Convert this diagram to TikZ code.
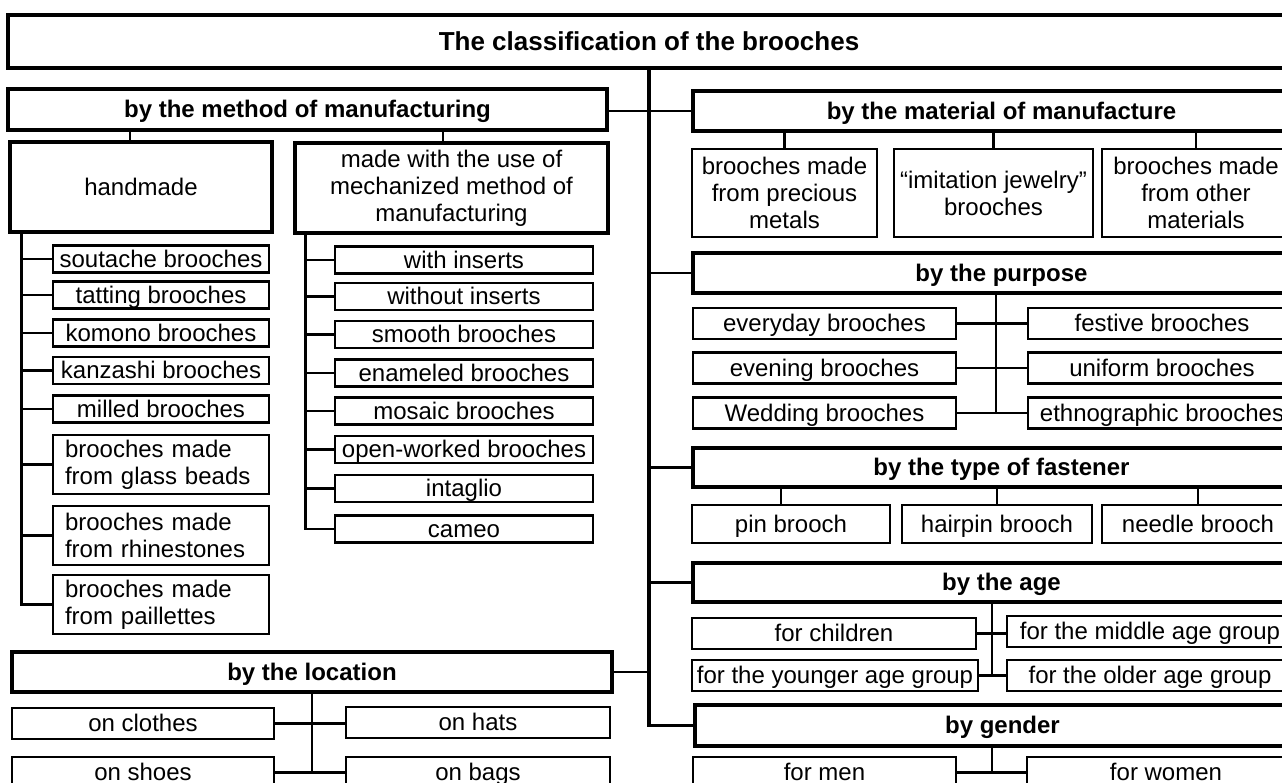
\documentclass[tikz,border=0pt]{standalone}
\usepackage{fontspec}
\setmainfont{Liberation Sans}
\usepackage{tikz}
\tikzstyle{oneline} = [text height=8.6pt,text depth=0.6pt]
\tikzstyle{head} = [draw,line width=1.75pt,inner sep=0pt,oneline,font=\fontsize{12}{13.5}\selectfont\bfseries]
\tikzstyle{rhead} = [head,minimum width=308.5pt,minimum height=20pt]
\tikzstyle{group} = [draw,line width=1.75pt,inner sep=0pt,align=center,font=\fontsize{12}{13.5}\selectfont]
\tikzstyle{item} = [draw,line width=1.1pt,inner sep=0pt,align=center,font=\fontsize{12}{13.5}\selectfont]
\tikzstyle{hitem} = [item,oneline,minimum width=108pt,minimum height=13.5pt]
\tikzstyle{hitemtwo} = [item,align=left,text width=96pt,minimum width=108pt,minimum height=29.5pt]
\tikzstyle{mitem} = [item,oneline,minimum width=129pt,minimum height=13.5pt]
\tikzstyle{litem} = [item,oneline,minimum height=15.5pt]
\tikzstyle{link} = [line width=1.25pt]
\tikzstyle{trunk} = [line width=1.75pt]

\begin{document}
\begin{tikzpicture}[line join=miter,x=0.5pt,y=-0.5pt]
                \useasboundingbox (0,0) rectangle (1282,783);
                \clip (0,0) rectangle (1282,783);

                \node[head,minimum width=641pt,minimum height=26.5pt,text height=9.4pt,text depth=0.4pt,font=\fontsize{13}{15}\selectfont\bfseries] (title) at (649,41.5) {The classification of the brooches};

                \node[head,minimum width=299.5pt,minimum height=20.5pt] (method) at (307.5,109.5) {by the method of manufacturing};
                \node[group,minimum width=131pt,minimum height=45pt] (handmade) at (141,187) {handmade};
                \node[group,minimum width=156.5pt,minimum height=45pt] (mech) at (451.5,188) {made with the use of\\mechanized method of\\manufacturing};

                \node[hitem] (soutache) at (161,259) {soutache brooches};
                \node[hitem] (tatting) at (161,295) {tatting brooches};
                \node[hitem] (komono) at (161,333) {komono brooches};
                \node[hitem] (kanzashi) at (161,370.5) {kanzashi brooches};
                \node[hitem] (milled) at (161,409) {milled brooches};
                \node[hitemtwo] (glass) at (161,464.5) {brooches made\\from glass beads};
                \node[hitemtwo] (rhinestones) at (161,535.5) {brooches made\\from rhinestones};
                \node[hitemtwo] (paillettes) at (161,604.5) {brooches made\\from paillettes};

                \node[mitem] (inserts) at (464,260) {with inserts};
                \node[mitem] (noinserts) at (464,296.5) {without inserts};
                \node[mitem] (smooth) at (464,334.5) {smooth brooches};
                \node[mitem] (enameled) at (464,373) {enameled brooches};
                \node[mitem] (mosaic) at (464,411) {mosaic brooches};
                \node[mitem] (openworked) at (464,449.5) {open-worked brooches};
                \node[mitem] (intaglio) at (464,488.5) {intaglio};
                \node[mitem] (cameo) at (464,529) {cameo};

                \node[head,minimum width=300pt,minimum height=20pt] (location) at (312,672) {by the location};
                \node[litem,minimum width=131pt] (clothes) at (143,723.5) {on clothes};
                \node[litem,minimum width=132pt] (hats) at (478,722.5) {on hats};
                \node[litem,minimum width=131pt] (shoes) at (143,772.5) {on shoes};
                \node[litem,minimum width=132pt] (bags) at (478,772.5) {on bags};

                \node[rhead] (material) at (1001.5,111) {by the material of manufacture};
                \node[item,minimum width=92.5pt,minimum height=44pt] (precious) at (784.5,193) {brooches made\\from precious\\metals};
                \node[item,minimum width=99.5pt,minimum height=44pt] (imitation) at (993.5,193) {“imitation jewelry”\\brooches};
                \node[item,minimum width=94pt,minimum height=44pt] (other) at (1196,193) {brooches made\\from other\\materials};

                \node[rhead] (purpose) at (1001.5,273) {by the purpose};
                \node[litem,minimum width=131.5pt] (everyday) at (824.5,323.5) {everyday brooches};
                \node[litem,minimum width=131.5pt] (evening) at (824.5,368) {evening brooches};
                \node[litem,minimum width=131.5pt] (wedding) at (824.5,413) {Wedding brooches};
                \node[litem,minimum width=134pt] (festive) at (1162,323.5) {festive brooches};
                \node[litem,minimum width=134pt] (uniform) at (1162,368) {uniform brooches};
                \node[litem,minimum width=134pt] (ethno) at (1162,413) {ethnographic brooches};

                \node[rhead,minimum height=19.5pt] (fastener) at (1001.5,467.5) {by the type of fastener};
                \node[item,oneline,minimum width=99pt,minimum height=19pt] (pin) at (791,524) {pin brooch};
                \node[item,oneline,minimum width=95pt,minimum height=19pt] (hairpin) at (997,524) {hairpin brooch};
                \node[item,oneline,minimum width=96pt,minimum height=19pt] (needle) at (1198,524) {needle brooch};

                \node[rhead,minimum height=19.5pt] (age) at (1001.5,582.5) {by the age};
                \node[litem,minimum width=142pt] (children) at (834,633.5) {for children};
                \node[litem,minimum width=143pt] (younger) at (835,675.5) {for the younger age group};
                \node[litem,minimum width=143pt] (middle) at (1150,631.5) {for the middle age group};
                \node[litem,minimum width=143pt] (older) at (1150,675.5) {for the older age group};

                \node[rhead,minimum width=307.5pt,minimum height=20.5pt] (gender) at (1002.5,725.5) {by gender};
                \node[litem,minimum width=131.5pt] (men) at (824.5,772.5) {for men};
                \node[litem,minimum width=139pt] (women) at (1166,772.5) {for women};

                \draw[trunk] (title.south) -- (title.south |- gender.west) -- (gender.west);
                \draw[link] (method.east |- material.west) -- (material.west);
                \draw[link] (purpose.west -| title.south) -- (purpose.west);
                \draw[link] (fastener.west -| title.south) -- (fastener.west);
                \draw[link] (age.west -| title.south) -- (age.west);
                \draw[link] (location.east) -- (location.east -| title.south);

                \draw[link] ([xshift=-5.5pt]handmade.north) -- ([xshift=-5.5pt]handmade.north |- method.south);
                \draw[link] ([xshift=-4.25pt]mech.north) -- ([xshift=-4.25pt]mech.north |- method.south);

                \coordinate (hbus) at ([xshift=6.5pt]handmade.south west);
                \draw[link] (hbus) -- (hbus |- paillettes.west) -- (paillettes.west);
                \draw[link] (soutache.west) -- (soutache.west -| hbus);
                \draw[link] (tatting.west) -- (tatting.west -| hbus);
                \draw[link] (komono.west) -- (komono.west -| hbus);
                \draw[link] (kanzashi.west) -- (kanzashi.west -| hbus);
                \draw[link] (milled.west) -- (milled.west -| hbus);
                \draw[link] (glass.west) -- (glass.west -| hbus);
                \draw[link] (rhinestones.west) -- (rhinestones.west -| hbus);

                \coordinate (mbus) at ([xshift=6pt]mech.south west);
                \draw[link] (mbus) -- (mbus |- cameo.west) -- (cameo.west);
                \draw[link] (inserts.west) -- (inserts.west -| mbus);
                \draw[link] (noinserts.west) -- (noinserts.west -| mbus);
                \draw[link] (smooth.west) -- (smooth.west -| mbus);
                \draw[link] (enameled.west) -- (enameled.west -| mbus);
                \draw[link] (mosaic.west) -- (mosaic.west -| mbus);
                \draw[link] (openworked.west) -- (openworked.west -| mbus);
                \draw[link] (intaglio.west) -- (intaglio.west -| mbus);

                \draw[link] (location.south) -- (location.south |- shoes.east);
                \draw[link] (clothes.east) -- (clothes.east -| hats.west);
                \draw[link] (shoes.east) -- (bags.west);

                \draw[link] (precious.north) -- (precious.north |- material.south);
                \draw[link] (imitation.north) -- (imitation.north |- material.south);
                \draw[link] (other.north) -- (other.north |- material.south);

                \coordinate (pbus) at ([xshift=-2.75pt]purpose.south);
                \draw[link] (pbus) -- (pbus |- wedding.east);
                \draw[link] (everyday.east) -- (festive.west);
                \draw[link] (evening.east) -- (uniform.west);
                \draw[link] (wedding.east) -- (ethno.west);

                \draw[link] ([xshift=-5pt]pin.north) -- ([xshift=-5pt]pin.north |- fastener.south);
                \draw[link] (hairpin.north) -- (hairpin.north |- fastener.south);
                \draw[link] (needle.north) -- (needle.north |- fastener.south);

                \coordinate (abus) at ([xshift=-4.75pt]age.south);
                \draw[link] (abus) -- (abus |- younger.east);
                \draw[link] (children.east) -- (children.east -| middle.west);
                \draw[link] (younger.east) -- (older.west);

                \coordinate (gbus) at ([xshift=-5.25pt]gender.south);
                \draw[link] (gbus) -- (gbus |- men.east);
                \draw[link] (men.east) -- (women.west);
            \end{tikzpicture}
\end{document}
